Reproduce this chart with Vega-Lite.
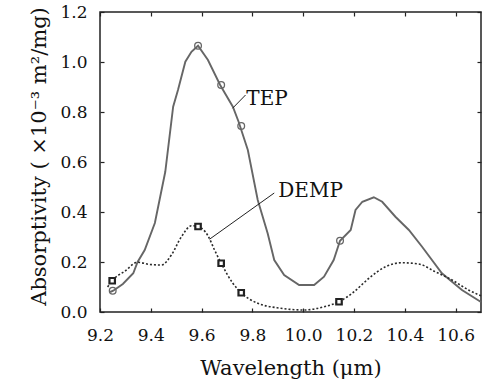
{
  "$schema": "https://vega.github.io/schema/vega-lite/v6.json",
  "autosize": {"type": "none"},
  "padding": {"left": 100, "top": 12, "right": 1, "bottom": 71},
  "width": 381,
  "height": 300,
  "background": "white",
  "config": {
    "view": {"stroke": "#222", "strokeWidth": 1.5},
    "font": "DejaVu Serif",
    "axis": {
      "domain": false,
      "grid": false,
      "tickColor": "#222",
      "tickSize": -4,
      "tickWidth": 1.2,
      "labelFont": "DejaVu Serif",
      "labelFontSize": 17,
      "labelColor": "#111",
      "titleFont": "DejaVu Serif",
      "titleFontSize": 21,
      "titleFontWeight": "normal",
      "titleColor": "#111"
    }
  },
  "datasets": {
    "curves": [
      {"series": "TEP", "wl": 9.24, "a": 0.08},
      {"series": "TEP", "wl": 9.252, "a": 0.085},
      {"series": "TEP", "wl": 9.29, "a": 0.112},
      {"series": "TEP", "wl": 9.331, "a": 0.155},
      {"series": "TEP", "wl": 9.348, "a": 0.2},
      {"series": "TEP", "wl": 9.376, "a": 0.248},
      {"series": "TEP", "wl": 9.416, "a": 0.356},
      {"series": "TEP", "wl": 9.457, "a": 0.561},
      {"series": "TEP", "wl": 9.488, "a": 0.821},
      {"series": "TEP", "wl": 9.507, "a": 0.888},
      {"series": "TEP", "wl": 9.536, "a": 1.001},
      {"series": "TEP", "wl": 9.56, "a": 1.041},
      {"series": "TEP", "wl": 9.586, "a": 1.065},
      {"series": "TEP", "wl": 9.625, "a": 1.008},
      {"series": "TEP", "wl": 9.673, "a": 0.908},
      {"series": "TEP", "wl": 9.723, "a": 0.821},
      {"series": "TEP", "wl": 9.746, "a": 0.76},
      {"series": "TEP", "wl": 9.782, "a": 0.648},
      {"series": "TEP", "wl": 9.821, "a": 0.448},
      {"series": "TEP", "wl": 9.86, "a": 0.315},
      {"series": "TEP", "wl": 9.886, "a": 0.208},
      {"series": "TEP", "wl": 9.925, "a": 0.148},
      {"series": "TEP", "wl": 9.984, "a": 0.108},
      {"series": "TEP", "wl": 10.043, "a": 0.108},
      {"series": "TEP", "wl": 10.082, "a": 0.141},
      {"series": "TEP", "wl": 10.12, "a": 0.208},
      {"series": "TEP", "wl": 10.145, "a": 0.285},
      {"series": "TEP", "wl": 10.187, "a": 0.328},
      {"series": "TEP", "wl": 10.206, "a": 0.408},
      {"series": "TEP", "wl": 10.233, "a": 0.441},
      {"series": "TEP", "wl": 10.278, "a": 0.459},
      {"series": "TEP", "wl": 10.311, "a": 0.441},
      {"series": "TEP", "wl": 10.363, "a": 0.381},
      {"series": "TEP", "wl": 10.416, "a": 0.328},
      {"series": "TEP", "wl": 10.468, "a": 0.261},
      {"series": "TEP", "wl": 10.546, "a": 0.155},
      {"series": "TEP", "wl": 10.625, "a": 0.088},
      {"series": "TEP", "wl": 10.7, "a": 0.04},
      {"series": "DEMP", "wl": 9.23, "a": 0.1},
      {"series": "DEMP", "wl": 9.248, "a": 0.125},
      {"series": "DEMP", "wl": 9.3, "a": 0.165},
      {"series": "DEMP", "wl": 9.348, "a": 0.199},
      {"series": "DEMP", "wl": 9.396, "a": 0.19},
      {"series": "DEMP", "wl": 9.442, "a": 0.188},
      {"series": "DEMP", "wl": 9.481, "a": 0.228},
      {"series": "DEMP", "wl": 9.52, "a": 0.3},
      {"series": "DEMP", "wl": 9.56, "a": 0.345},
      {"series": "DEMP", "wl": 9.586, "a": 0.342},
      {"series": "DEMP", "wl": 9.625, "a": 0.305},
      {"series": "DEMP", "wl": 9.651, "a": 0.248},
      {"series": "DEMP", "wl": 9.677, "a": 0.195},
      {"series": "DEMP", "wl": 9.723, "a": 0.115},
      {"series": "DEMP", "wl": 9.756, "a": 0.077},
      {"series": "DEMP", "wl": 9.821, "a": 0.035},
      {"series": "DEMP", "wl": 9.912, "a": 0.015},
      {"series": "DEMP", "wl": 10.004, "a": 0.008},
      {"series": "DEMP", "wl": 10.082, "a": 0.021},
      {"series": "DEMP", "wl": 10.141, "a": 0.041},
      {"series": "DEMP", "wl": 10.193, "a": 0.075},
      {"series": "DEMP", "wl": 10.259, "a": 0.135},
      {"series": "DEMP", "wl": 10.324, "a": 0.181},
      {"series": "DEMP", "wl": 10.389, "a": 0.197},
      {"series": "DEMP", "wl": 10.455, "a": 0.192},
      {"series": "DEMP", "wl": 10.52, "a": 0.161},
      {"series": "DEMP", "wl": 10.586, "a": 0.128},
      {"series": "DEMP", "wl": 10.651, "a": 0.088},
      {"series": "DEMP", "wl": 10.7, "a": 0.065}
    ],
    "markers": [
      {"series": "TEP", "wl": 9.25, "a": 0.085},
      {"series": "TEP", "wl": 9.586, "a": 1.065},
      {"series": "TEP", "wl": 9.677, "a": 0.908},
      {"series": "TEP", "wl": 9.756, "a": 0.744},
      {"series": "TEP", "wl": 10.145, "a": 0.285},
      {"series": "DEMP", "wl": 9.248, "a": 0.125},
      {"series": "DEMP", "wl": 9.586, "a": 0.342},
      {"series": "DEMP", "wl": 9.677, "a": 0.195},
      {"series": "DEMP", "wl": 9.756, "a": 0.077},
      {"series": "DEMP", "wl": 10.141, "a": 0.041}
    ],
    "leaders": [
      {"label": "TEP", "x1": 9.722, "y1": 0.815, "x2": 9.773, "y2": 0.868, "tx": 9.776, "ty": 0.853},
      {"label": "DEMP", "x1": 9.631, "y1": 0.291, "x2": 9.886, "y2": 0.476, "tx": 9.902, "ty": 0.484}
    ]
  },
  "resolve": {"axis": {"x": "independent", "y": "independent"}},
  "layer": [
    {
      "data": {"name": "curves"},
      "transform": [{"filter": "datum.series === 'TEP'"}],
      "mark": {"type": "line", "color": "#666666", "strokeWidth": 1.9, "interpolate": "linear"},
      "encoding": {
        "x": {"field": "wl", "type": "quantitative",
              "scale": {"domain": [9.2, 10.7], "nice": false, "zero": false},
              "axis": {"orient": "bottom", "values": [9.2, 9.4, 9.6, 9.8, 10.0, 10.2, 10.4, 10.6], "format": ".1f", "labelPadding": 19, "title": "Wavelength (μm)", "titlePadding": 14, "labelFlush": false}},
        "y": {"field": "a", "type": "quantitative",
              "scale": {"domain": [0, 1.2], "nice": false},
              "axis": {"orient": "left", "values": [0, 0.2, 0.4, 0.6, 0.8, 1.0, 1.2], "format": ".1f", "labelPadding": 17, "title": "Absorptivity ( ×10⁻³ m²/mg)", "titlePadding": 10, "titleY": 144, "labelFlush": false}}
      }
    },
    {
      "data": {"name": "curves"},
      "transform": [{"filter": "datum.series === 'DEMP'"}],
      "mark": {"type": "line", "color": "#2a2a2a", "strokeWidth": 1.6, "strokeDash": [2, 2], "interpolate": "monotone"},
      "encoding": {
        "x": {"field": "wl", "type": "quantitative", "axis": null},
        "y": {"field": "a", "type": "quantitative", "axis": null}
      }
    },
    {
      "data": {"name": "markers"},
      "transform": [{"filter": "datum.series === 'TEP'"}],
      "mark": {"type": "point", "shape": "circle", "filled": false, "stroke": "#666666", "strokeWidth": 1.3, "size": 45, "opacity": 1},
      "encoding": {
        "x": {"field": "wl", "type": "quantitative",
              "axis": {"orient": "top", "values": [9.2, 9.4, 9.6, 9.8, 10.0, 10.2, 10.4, 10.6], "labels": false, "title": null}},
        "y": {"field": "a", "type": "quantitative",
              "axis": {"orient": "right", "values": [0, 0.2, 0.4, 0.6, 0.8, 1.0, 1.2], "labels": false, "title": null}}
      }
    },
    {
      "data": {"name": "markers"},
      "transform": [{"filter": "datum.series === 'DEMP'"}],
      "mark": {"type": "point", "shape": "square", "filled": true, "fill": "white", "stroke": "#222", "strokeWidth": 2.2, "size": 30, "opacity": 1},
      "encoding": {
        "x": {"field": "wl", "type": "quantitative", "axis": null},
        "y": {"field": "a", "type": "quantitative", "axis": null}
      }
    },
    {
      "data": {"name": "leaders"},
      "mark": {"type": "rule", "color": "#222", "strokeWidth": 1},
      "encoding": {
        "x": {"field": "x1", "type": "quantitative", "axis": null},
        "y": {"field": "y1", "type": "quantitative", "axis": null},
        "x2": {"field": "x2"},
        "y2": {"field": "y2"}
      }
    },
    {
      "data": {"name": "leaders"},
      "mark": {"type": "text", "align": "left", "baseline": "middle", "font": "DejaVu Serif", "fontSize": 20, "color": "#111"},
      "encoding": {
        "x": {"field": "tx", "type": "quantitative", "axis": null},
        "y": {"field": "ty", "type": "quantitative", "axis": null},
        "text": {"field": "label"}
      }
    }
  ]
}
